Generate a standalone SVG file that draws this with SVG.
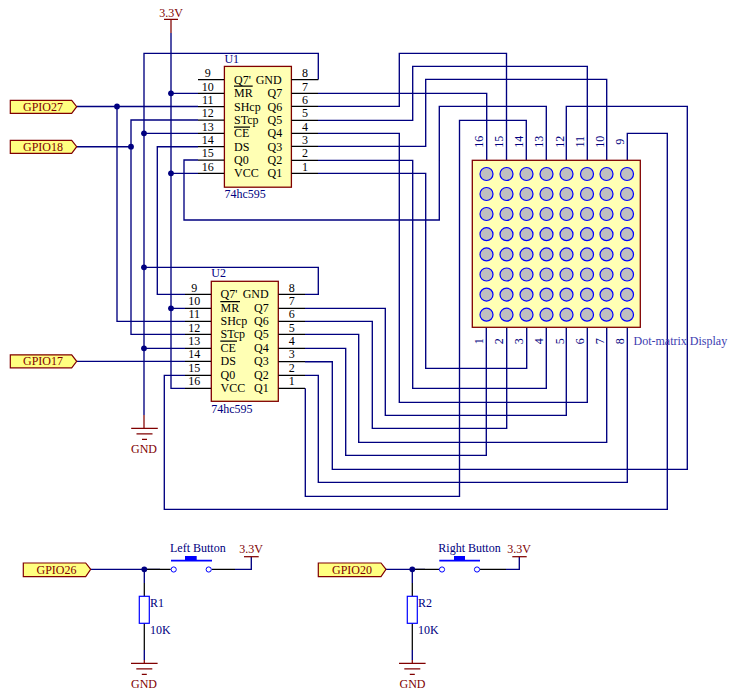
<svg xmlns="http://www.w3.org/2000/svg" xmlns:xlink="http://www.w3.org/1999/xlink" width="737" height="692" viewBox="0 0 737 692">
<style>
text{font-family:"Liberation Serif","Times New Roman",serif;font-size:12px}
.w{fill:none;stroke:#000080;stroke-width:1.35}
.k{fill:none;stroke:#000;stroke-width:1.25}
.r{fill:none;stroke:#800000;stroke-width:1.25}
.d{fill:#000080;stroke:none}
.ic{fill:#ffffb4;stroke:#800000;stroke-width:1.3}
.port{fill:#ffff80;stroke:#800000;stroke-width:1.2}
.led{fill:#c0c0c0;stroke:#0000ff;stroke-width:1.2}
.tk{fill:#000}
.tn{fill:#000080}
.tr{fill:#800000}
.m{text-anchor:middle}
</style>
<defs>
<g id="gnd"><path class="r" d="M-13.3 0H13.3M-8 5.5H8M-2.5 11H2.5"/></g>
<g id="ledrow"><circle class="led" cx="486.5" cy="0" r="6.5"/><circle class="led" cx="506.5" cy="0" r="6.5"/><circle class="led" cx="526.5" cy="0" r="6.5"/><circle class="led" cx="546.5" cy="0" r="6.5"/><circle class="led" cx="566.5" cy="0" r="6.5"/><circle class="led" cx="587" cy="0" r="6.5"/><circle class="led" cx="606.5" cy="0" r="6.5"/><circle class="led" cx="627" cy="0" r="6.5"/></g>
</defs>
<rect width="737" height="692" fill="#fff"/>
<g id="connectors">
<path class="w" d="M171 33V388.3H185"/>
<path class="w" d="M171 93.3H198M171 173.3H198M171 308.3H185"/>
<path class="w" d="M318.3 79.5V53.3H144V415"/>
<path class="w" d="M144 133.3H198M144 348.3H185M144 267.3H318.3V294.3H305"/>
<path class="w" d="M77 106.5H198M117 106.5V321.3H185"/>
<path class="w" d="M77 146.7H131M198 120H131V334.3H185"/>
<path class="w" d="M198 146.7H157.3V294.3H185"/>
<path class="w" d="M198 160H184V220H439.3V106.3H546.3V160"/>
<path class="w" d="M77 361.3H185"/>
<path class="w" d="M185 375.3H164.3V509.3H667.3V133.3H627.3V160"/>
<path class="w" d="M318 93.3H486.7V160"/>
<path class="w" d="M318 106.3H399.3V53.3H506.5V160"/>
<path class="w" d="M318 120.3H412.7V66.3H587.3V160"/>
<path class="w" d="M318 133.3H399.3V402.3H587.3V327"/>
<path class="w" d="M318 146.3H425.7V79.3H606.7V160"/>
<path class="w" d="M318 160.3H412.7V388.3H546.3V327"/>
<path class="w" d="M318 173.3H425.7V368.3H526.7V327"/>
<path class="w" d="M305 308.3H385.3V415.3H566.3V327"/>
<path class="w" d="M305 321.3H372.3V428.3H506.7V327"/>
<path class="w" d="M305 334.3H358.7V442.3H606.7V327"/>
<path class="w" d="M305 348.3H345.7V455.3H486.3V327"/>
<path class="w" d="M305 361.7H332.3V469.3H687.3V106.3H566.3V160"/>
<path class="w" d="M305 375.3H318.3V482.3H627.3V327"/>
<path class="w" d="M305.3 388.3V496.3H459.5V120.3H526.3V160"/>
<path class="w" d="M91 569.3H160"/>
<path class="k" d="M144.3 569.3H170.7M211.7 569.3H235"/>
<path class="w" d="M235 569.3H251.3V556.7"/>
<path class="w" d="M144.3 569.3V583M144.3 650V660"/>
<path class="k" d="M144.3 583V596.3M144.3 623.3V650"/>
<path class="r" d="M144.3 660V663.3"/>
<path class="w" d="M386 569.3H425"/>
<path class="k" d="M412.3 569.3H439M480 569.3H506"/>
<path class="w" d="M506 569.3H519.3V556.7"/>
<path class="w" d="M412.3 569.3V583M412.3 650V660"/>
<path class="k" d="M412.3 583V596.3M412.3 623.3V650"/>
<path class="r" d="M412.3 660V663.3"/>
<circle class="d" cx="171" cy="93.3" r="2.9"/><circle class="d" cx="171" cy="173.3" r="2.9"/><circle class="d" cx="171" cy="308.3" r="2.9"/>
<circle class="d" cx="144" cy="133.3" r="2.9"/><circle class="d" cx="144" cy="267.3" r="2.9"/><circle class="d" cx="144" cy="348.3" r="2.9"/>
<circle class="d" cx="117" cy="106.5" r="2.9"/><circle class="d" cx="131" cy="146.7" r="2.9"/>
<circle class="d" cx="144.3" cy="569.3" r="2.9"/><circle class="d" cx="412.3" cy="569.3" r="2.9"/>
</g>
<g id="U1">
<rect class="ic" x="224.4" y="66.4" width="67" height="120.8"/>
<path class="k" d="M198 79.5H224M198 93.3H224M198 106.5H224M198 120H224M198 133.3H224M198 146.7H224M198 160H224M198 173.3H224M291.5 79.5H318.3M291.5 93.3H318M291.5 106.3H318M291.5 120.3H318M291.5 133.3H318M291.5 146.3H318M291.5 160.3H318M291.5 173.3H318"/>
<path class="k" d="M234 86H252.7M234 127H250"/>
<text class="tn" x="224.4" y="63">U1</text>
<text class="tn" x="224.4" y="198">74hc595</text>
<g class="tk">
<text x="234" y="83.5">Q7'</text><text x="255.7" y="83.5">GND</text>
<text x="234" y="97.3">MR</text><text x="267.5" y="97.3">Q7</text>
<text x="234" y="110.5">SHcp</text><text x="267.5" y="110.5">Q6</text>
<text x="234" y="124">STcp</text><text x="267.5" y="124">Q5</text>
<text x="234" y="137.3">CE</text><text x="267.5" y="137.3">Q4</text>
<text x="234" y="150.7">DS</text><text x="267.5" y="150.7">Q3</text>
<text x="234" y="164">Q0</text><text x="267.5" y="164">Q2</text>
<text x="234" y="177.3">VCC</text><text x="267.5" y="177.3">Q1</text>
</g>
<g class="tk m">
<text x="207.7" y="77">9</text><text x="207.7" y="90.5">10</text><text x="207.7" y="104">11</text><text x="207.7" y="117">12</text><text x="207.7" y="130.5">13</text><text x="207.7" y="144">14</text><text x="207.7" y="157">15</text><text x="207.7" y="170.5">16</text>
<text x="305" y="77">8</text><text x="305" y="90.5">7</text><text x="305" y="104">6</text><text x="305" y="117">5</text><text x="305" y="130.5">4</text><text x="305" y="144">3</text><text x="305" y="157">2</text><text x="305" y="170.5">1</text>
</g>
</g>
<g id="U2">
<rect class="ic" x="211.3" y="281.3" width="67" height="120"/>
<path class="k" d="M185 294.3H211M185 308.3H211M185 321.3H211M185 334.3H211M185 348.3H211M185 361.3H211M185 375.3H211M185 388.3H211M278.5 294.3H305M278.5 308.3H305M278.5 321.3H305M278.5 334.3H305M278.5 348.3H305M278.5 361.7H305M278.5 375.3H305M278.5 388.3H305"/>
<path class="k" d="M220.3 301.7H240M220.3 341H237"/>
<text class="tn" x="211.3" y="277">U2</text>
<text class="tn" x="211.3" y="412.5">74hc595</text>
<g class="tk">
<text x="220.5" y="298.3">Q7'</text><text x="242.7" y="298.3">GND</text>
<text x="220.5" y="312.3">MR</text><text x="254" y="312.3">Q7</text>
<text x="220.5" y="325.3">SHcp</text><text x="254" y="325.3">Q6</text>
<text x="220.5" y="338.3">STcp</text><text x="254" y="338.3">Q5</text>
<text x="220.5" y="352.3">CE</text><text x="254" y="352.3">Q4</text>
<text x="220.5" y="365.3">DS</text><text x="254" y="365.3">Q3</text>
<text x="220.5" y="379.3">Q0</text><text x="254" y="379.3">Q2</text>
<text x="220.5" y="392.3">VCC</text><text x="254" y="392.3">Q1</text>
</g>
<g class="tk m">
<text x="194.3" y="291.5">9</text><text x="194.3" y="305">10</text><text x="194.3" y="318">11</text><text x="194.3" y="331.5">12</text><text x="194.3" y="345">13</text><text x="194.3" y="358">14</text><text x="194.3" y="372">15</text><text x="194.3" y="385">16</text>
<text x="291.7" y="291.5">8</text><text x="291.7" y="305">7</text><text x="291.7" y="318">6</text><text x="291.7" y="331.5">5</text><text x="291.7" y="345">4</text><text x="291.7" y="358">3</text><text x="291.7" y="372">2</text><text x="291.7" y="385">1</text>
</g>
</g>
<g id="matrix">
<rect class="ic" x="472.3" y="160.3" width="168" height="167"/>
<use xlink:href="#ledrow" href="#ledrow" y="174"/><use xlink:href="#ledrow" href="#ledrow" y="194"/><use xlink:href="#ledrow" href="#ledrow" y="214"/><use xlink:href="#ledrow" href="#ledrow" y="234.2"/><use xlink:href="#ledrow" href="#ledrow" y="254.4"/><use xlink:href="#ledrow" href="#ledrow" y="274.5"/><use xlink:href="#ledrow" href="#ledrow" y="294.6"/><use xlink:href="#ledrow" href="#ledrow" y="314.7"/>
<g class="tn m">
<text transform="translate(483 141.7) rotate(-90)">16</text>
<text transform="translate(503.3 141.7) rotate(-90)">15</text>
<text transform="translate(523.3 141.7) rotate(-90)">14</text>
<text transform="translate(543.3 141.7) rotate(-90)">13</text>
<text transform="translate(564 141.7) rotate(-90)">12</text>
<text transform="translate(584 141.7) rotate(-90)">11</text>
<text transform="translate(604 141.7) rotate(-90)">10</text>
<text transform="translate(624 141.7) rotate(-90)">9</text>
<text transform="translate(483 341.3) rotate(-90)">1</text>
<text transform="translate(503 341.3) rotate(-90)">2</text>
<text transform="translate(523.3 341.3) rotate(-90)">3</text>
<text transform="translate(543.3 341.3) rotate(-90)">4</text>
<text transform="translate(564 341.3) rotate(-90)">5</text>
<text transform="translate(584 341.3) rotate(-90)">6</text>
<text transform="translate(604 341.3) rotate(-90)">7</text>
<text transform="translate(624 341.3) rotate(-90)">8</text>
</g>
<text x="633.5" y="345" fill="#3c3cb0">Dot-matrix Display</text>
</g>
<g id="gpio27"><path class="port" d="M10.3 100.3H71.7L76.7 106.7L71.7 113.3H10.3Z"/><text class="tr m" x="43" y="110.7">GPIO27</text></g>
<g id="gpio18"><path class="port" d="M10.3 140.3H71.7L76.7 146.7L71.7 153.3H10.3Z"/><text class="tr m" x="43" y="150.7">GPIO18</text></g>
<g id="gpio17"><path class="port" d="M10.3 354.8H71.7L76.7 361.3L71.7 367.8H10.3Z"/><text class="tr m" x="43" y="365.3">GPIO17</text></g>
<g id="gpio26"><path class="port" d="M23.3 563H85.7L90.7 569.3L85.7 576.7H23.3Z"/><text class="tr m" x="56.5" y="573.5">GPIO26</text></g>
<g id="gpio20"><path class="port" d="M318.3 563H381L386 569.3L381 576.7H318.3Z"/><text class="tr m" x="352" y="573.5">GPIO20</text></g>
<g id="vcc-top"><path class="r" d="M164 19.3H178M171 19.3V33"/><text class="tr m" x="171" y="17">3.3V</text></g>
<g id="gnd-main"><path class="r" d="M144 415V428.3"/><use xlink:href="#gnd" href="#gnd" x="144.5" y="428.3"/><text class="tr m" x="144" y="452.5">GND</text></g>
<g id="left-button">
<circle cx="173.7" cy="569.5" r="2.6" fill="#fff" stroke="#0000ff" stroke-width="1"/><circle cx="208.7" cy="569.5" r="2.6" fill="#fff" stroke="#0000ff" stroke-width="1"/>
<path d="M171 560.7H212" stroke="#0000ff" stroke-width="1.8" fill="none"/><rect x="185" y="556" width="11.7" height="4.5" fill="#0000ff"/>
<text class="tn" x="170" y="552">Left Button</text>
</g>
<g id="vcc-left"><path class="r" d="M244 556.7H258.7"/><text class="tr m" x="251" y="553">3.3V</text></g>
<g id="R1"><rect x="139.3" y="596.3" width="10" height="27" fill="#fff" stroke="#0000ff" stroke-width="1.2"/><text class="tn" x="150" y="606.5">R1</text><text class="tn" x="150" y="634">10K</text></g>
<g id="gnd-left"><use xlink:href="#gnd" href="#gnd" x="144.3" y="663.3"/><text class="tr m" x="144" y="687.5">GND</text></g>
<g id="right-button">
<circle cx="442" cy="569.5" r="2.6" fill="#fff" stroke="#0000ff" stroke-width="1"/><circle cx="477" cy="569.5" r="2.6" fill="#fff" stroke="#0000ff" stroke-width="1"/>
<path d="M439.3 560.7H480" stroke="#0000ff" stroke-width="1.8" fill="none"/><rect x="454" y="556" width="11" height="4.5" fill="#0000ff"/>
<text class="tn" x="438.3" y="552">Right Button</text>
</g>
<g id="vcc-right"><path class="r" d="M512.3 556.7H526.7"/><text class="tr m" x="519" y="553">3.3V</text></g>
<g id="R2"><rect x="407.3" y="596.3" width="10" height="27" fill="#fff" stroke="#0000ff" stroke-width="1.2"/><text class="tn" x="418" y="606.5">R2</text><text class="tn" x="418" y="634">10K</text></g>
<g id="gnd-right"><use xlink:href="#gnd" href="#gnd" x="412.3" y="663.3"/><text class="tr m" x="412.5" y="687.5">GND</text></g>
</svg>
